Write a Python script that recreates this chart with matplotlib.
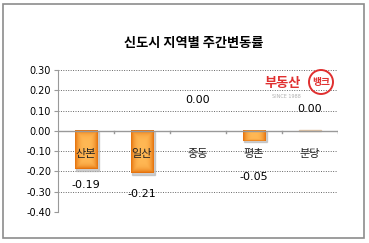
import numpy as np
import matplotlib.pyplot as plt
from matplotlib.patches import Rectangle, Ellipse

plt.rcParams['font.family'] = ['Noto Sans CJK KR', 'DejaVu Sans']

regions = ['산본', '일산', '중동', '평촌', '분당']
changes = [-0.19, -0.21, 0.00, -0.05, 0.004]
value_text = ['-0.19', '-0.21', '0.00', '-0.05', '0.00']
# label offsets (points) as Excel placed them
label_dy = [-11, -15, 22, -26, 16]

yticks = np.round(np.arange(-0.4, 0.31, 0.1), 2)

fig = plt.figure(figsize=(3.69, 2.43), dpi=100)
fig.patches.append(Rectangle((3 / 369, 5 / 243), 361 / 369, 234 / 243,
                             transform=fig.transFigure, fill=False,
                             edgecolor='#8c8c8c', linewidth=1.2))
ax = fig.add_axes([58 / 369, 1 - 212 / 243, 280 / 369, 142 / 243])

# bevelled orange gradient
gx = np.linspace(-1, 1, 40)
gy = np.linspace(-1, 1, 40)
GX, GY = np.meshgrid(gx, gy)
d = np.maximum(np.abs(GX) ** 3, np.abs(GY) ** 6)
light = np.array([1.0, 0.72, 0.33])
dark = np.array([0.90, 0.45, 0.05])
grad = light[None, None, :] * (1 - d[..., None]) + dark[None, None, :] * d[..., None]

w = 0.41
for i, v in enumerate(changes):
    lo, hi = min(0, v), max(0, v)
    if v > 0:
        ax.add_patch(Rectangle((i - w / 2, lo), w, hi - lo, color='#e2c4a4', zorder=3))
        continue
    if v == 0:
        continue
    ax.add_patch(Rectangle((i - w / 2 + 0.03, lo - 0.006), w, hi - lo,
                           color='#b0b0b0', alpha=0.6, zorder=2))
    ax.imshow(grad, extent=(i - w / 2, i + w / 2, lo, hi), aspect='auto',
              zorder=3, interpolation='bilinear')

for i, v in enumerate(changes):
    ax.annotate(value_text[i], (i, min(v, 0)), xytext=(0, label_dy[i]),
                textcoords='offset points', ha='center', va='center',
                fontsize=8, family='DejaVu Sans', zorder=5)
    ax.text(i, -0.113, regions[i], ha='center', va='center', fontsize=8,
            color='#222222', zorder=5)

ax.set_xlim(-0.5, len(regions) - 0.5)
ax.set_ylim(-0.4, 0.3)
ax.set_yticks(yticks)
ax.set_yticklabels(['%.2f' % (t + 0.0) for t in yticks], fontsize=7, family='DejaVu Sans')
ax.set_xticks([])
for t in yticks:
    if abs(t) > 1e-9:
        ax.axhline(t, color='#666666', linestyle=(0, (1, 1.5)), linewidth=0.7, zorder=1)
ax.axhline(0, color='#999999', linewidth=1, zorder=4)
for b in np.arange(0.5, len(regions), 1.0):
    ax.plot([b, b], [0, -0.012], color='#999999', linewidth=1, zorder=4)
for s in ['top', 'right', 'bottom']:
    ax.spines[s].set_visible(False)
ax.spines['left'].set_color('#999999')
ax.tick_params(axis='y', length=3, color='#999999', pad=2)

fig.text(194 / 369, 1 - 43 / 243, '신도시 지역별 주간변동률', ha='center', va='center',
         fontsize=9.5, weight='bold')

# logo
fig.text(283 / 369, 1 - 83 / 243, '부동산', ha='center', va='center', fontsize=9.5,
         color='#e03030', weight='bold')
fig.patches.append(Ellipse((321 / 369, 1 - 82 / 243), 24 / 369, 24 / 243,
                           transform=fig.transFigure, fill=False,
                           edgecolor='#e03030', linewidth=1.4))
fig.text(321 / 369, 1 - 82 / 243, '뱅크', ha='center', va='center', fontsize=7,
         color='#e03030', weight='bold')
fig.text(286 / 369, 1 - 96 / 243, 'SINCE 1988', ha='center', va='center', fontsize=3.5,
         color='#b0b0b0', family='DejaVu Sans')

fig.savefig('out.png', dpi=100)
